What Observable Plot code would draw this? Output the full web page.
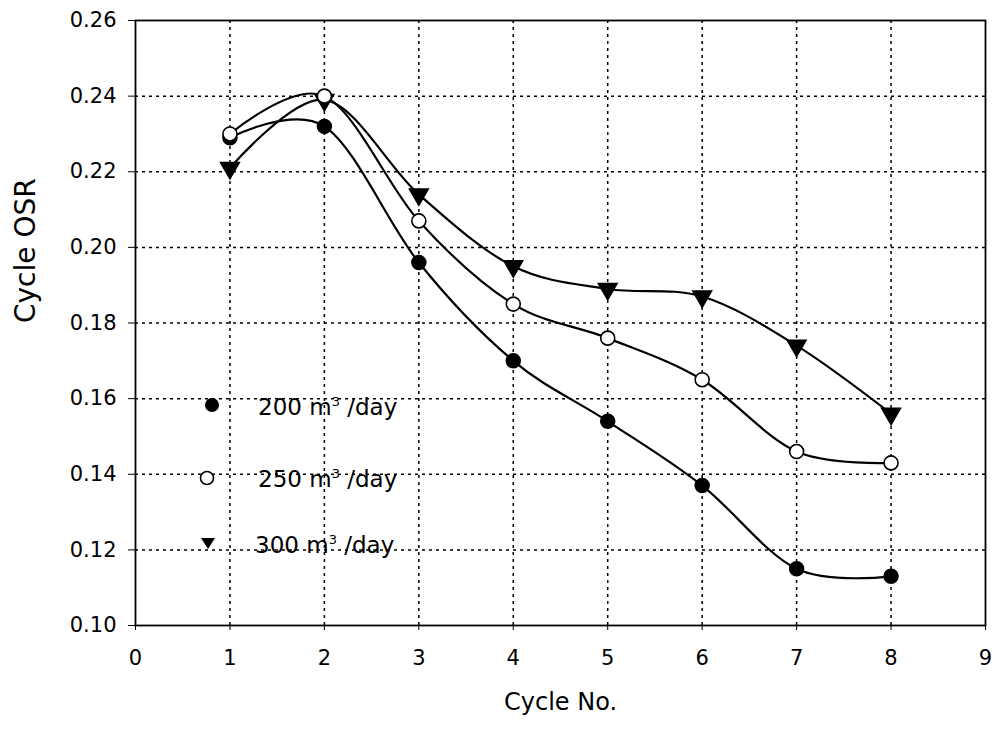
<!DOCTYPE html>
<html>
<head>
<meta charset="utf-8">
<script src="https://cdn.jsdelivr.net/npm/d3@7"></script>
<script src="https://cdn.jsdelivr.net/npm/@observablehq/plot@0.6"></script>
<style>
  body { margin: 0; background: #fff; }
</style>
</head>
<body>
<div id="wrap"></div>
<script>
const cycles = [1, 2, 3, 4, 5, 6, 7, 8];
const osr200 = [0.229, 0.232, 0.196, 0.170, 0.154, 0.137, 0.115, 0.113];
const osr250 = [0.230, 0.240, 0.207, 0.185, 0.176, 0.165, 0.146, 0.143];
const osr300 = [0.221, 0.239, 0.214, 0.195, 0.189, 0.187, 0.174, 0.156];
const seriesNames = ["200", "250", "300"];
const xTicks = [0, 1, 2, 3, 4, 5, 6, 7, 8, 9];
const yTicks = [0.10, 0.12, 0.14, 0.16, 0.18, 0.20, 0.22, 0.24, 0.26];

const rows = [];
[osr200, osr250, osr300].forEach((vals, i) => {
  vals.forEach((v, j) => rows.push({ series: seriesNames[i], cycle: cycles[j], osr: v }));
});
const s200 = rows.filter(d => d.series === "200");
const s250 = rows.filter(d => d.series === "250");
const s300 = rows.filter(d => d.series === "300");

const FONT = "DejaVu Sans, sans-serif";
const dash = "3,4";
const chart = Plot.plot({
  width: 995,
  height: 732,
  marginLeft: 135,
  marginRight: 10,
  marginTop: 20,
  marginBottom: 107,
  style: { fontFamily: FONT, background: "white", color: "black" },
  x: { domain: [0, 9] },
  y: { domain: [0.10, 0.26] },
  marks: [
    Plot.gridX(cycles, { stroke: "black", strokeOpacity: 1, strokeWidth: 1.5, strokeDasharray: dash }),
    Plot.gridY(yTicks.slice(1, -1), { stroke: "black", strokeOpacity: 1, strokeWidth: 1.5, strokeDasharray: dash }),
    Plot.frame({ stroke: "black", strokeWidth: 1.8 }),
    Plot.axisX({ ticks: xTicks, tickSize: 5, fontSize: 21, tickPadding: 20, label: null, tickFormat: d3.format("d") }),
    Plot.axisY({ ticks: yTicks, tickSize: 7, fontSize: 21, tickPadding: 12, label: null, tickFormat: d3.format(".2f") }),
    Plot.text(["Cycle No."], { frameAnchor: "bottom", dy: 84, fontSize: 24, text: d => d }),
    Plot.text(["Cycle OSR"], { frameAnchor: "left", dx: -109, rotate: -90, fontSize: 28, text: d => d }),
    Plot.line(s200, { x: "cycle", y: "osr", curve: "cardinal", tension: 0, stroke: "black", strokeWidth: 2.2 }),
    Plot.line(s250, { x: "cycle", y: "osr", curve: "cardinal", tension: 0, stroke: "black", strokeWidth: 2.2 }),
    Plot.line(s300, { x: "cycle", y: "osr", curve: "cardinal", tension: 0, stroke: "black", strokeWidth: 2.2 }),
    Plot.dot(s300, { x: "cycle", y: "osr", symbol: "triangle", rotate: 180, r: 7, fill: "black", stroke: "black" }),
    Plot.dot(s200, { x: "cycle", y: "osr", symbol: "circle", r: 7, fill: "black", stroke: "black" }),
    Plot.dot(s250, { x: "cycle", y: "osr", symbol: "circle", r: 7, fill: "white", stroke: "black", strokeWidth: 1.6 })
  ]
});

document.getElementById("wrap").appendChild(chart);

// Legend (inside the plot area, as in the original figure)
const legendItems = [
  { label: "200", sym: "filled", sx: 212, sy: 405, tx: 258, ty: 415 },
  { label: "250", sym: "open",   sx: 207, sy: 478, tx: 258, ty: 487 },
  { label: "300", sym: "tri",    sx: 208, sy: 543, tx: 255, ty: 553 }
];
const svg = d3.select(chart);
const g = svg.append("g").attr("font-family", FONT).attr("font-size", 23).attr("text-anchor", "start");
legendItems.forEach(it => {
  if (it.sym === "filled") g.append("circle").attr("cx", it.sx).attr("cy", it.sy).attr("r", 7).attr("fill", "black");
  else if (it.sym === "open") g.append("circle").attr("cx", it.sx).attr("cy", it.sy).attr("r", 6.5).attr("fill", "white").attr("stroke", "black").attr("stroke-width", 1.6);
  else g.append("path").attr("transform", `translate(${it.sx},${it.sy})`).attr("d", "M-7,-5L7,-5L0,6Z").attr("fill", "black");
  const t = g.append("text").attr("x", it.tx).attr("y", it.ty).attr("fill", "black");
  t.append("tspan").text(it.label + " m");
  t.append("tspan").attr("dy", -9).attr("font-size", 13).text("3");
  t.append("tspan").attr("dy", 9).text(" /day");
});
</script>
</body>
</html>
